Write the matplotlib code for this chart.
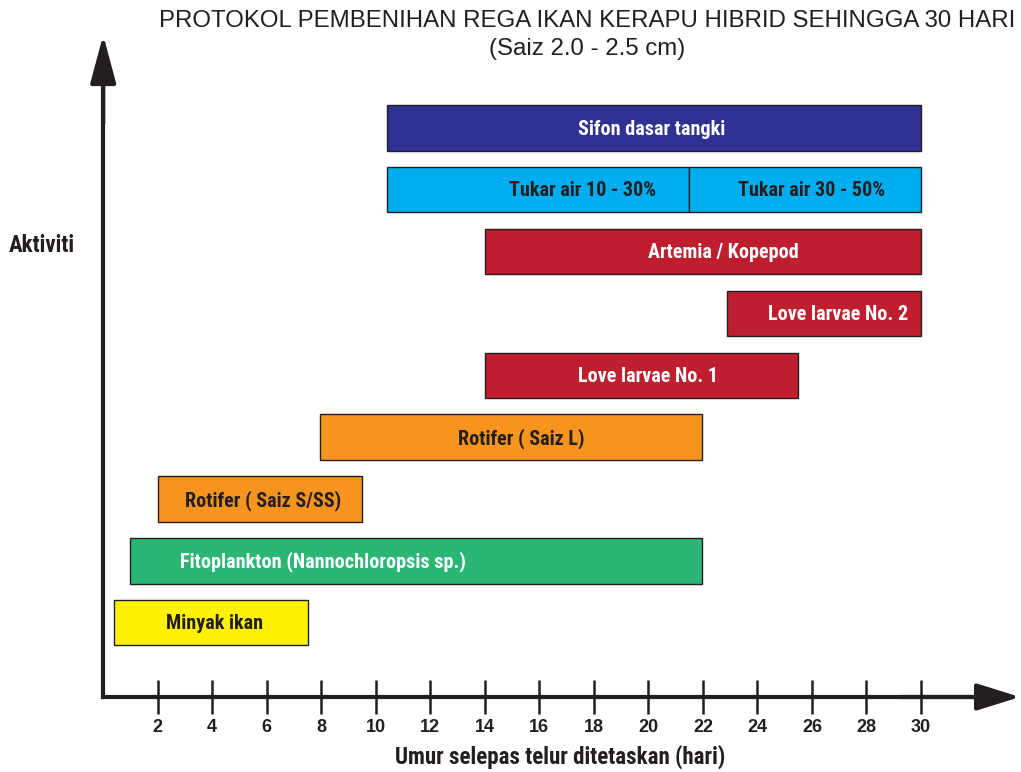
import matplotlib
matplotlib.use("Agg")
import matplotlib.pyplot as plt

# ---------------- data ----------------
activities = ["Minyak ikan", "Fitoplankton (Nannochloropsis sp.)", "Rotifer ( Saiz S/SS)",
              "Rotifer ( Saiz L)", "Love larvae No. 1", "Love larvae No. 2",
              "Artemia / Kopepod", "Tukar air 10 - 30%", "Tukar air 30 - 50%",
              "Sifon dasar tangki"]
rows = [0, 1, 2, 3, 4, 5, 6, 7, 7, 8]
start_day = [0.4, 1.0, 2.0, 7.95, 14.0, 22.9, 14.0, 10.4, 21.5, 10.4]
end_day = [7.5, 21.95, 9.5, 21.95, 25.5, 30.0, 30.0, 21.5, 30.0, 30.0]
label_day = [4.08, 8.07, 5.88, 15.33, 19.98, 26.97, 22.76, 17.6, 26.0, 20.1]
bar_colors = ["#fff200", "#2bb673", "#f7941d", "#f7941d", "#be1e2d", "#be1e2d",
              "#be1e2d", "#00aeef", "#00aeef", "#2e3192"]
text_colors = ["#231f20", "white", "#231f20", "#231f20", "white", "white",
               "white", "#231f20", "#231f20", "white"]
x_ticks = [2, 4, 6, 8, 10, 12, 14, 16, 18, 20, 22, 24, 26, 28, 30]

title1 = "PROTOKOL PEMBENIHAN REGA IKAN KERAPU HIBRID SEHINGGA 30 HARI"
title2 = "(Saiz 2.0 - 2.5 cm)"
xlabel = "Umur selepas telur ditetaskan (hari)"
ylabel = "Aktiviti"

# ---------------- style ----------------
DARK = "#231f20"
NARROW = ["Liberation Sans Narrow", "Roboto Condensed", "Liberation Sans", "DejaVu Sans"]
REG = ["Liberation Sans", "DejaVu Sans"]

W, H = 1021, 772
fig = plt.figure(figsize=(W / 100, H / 100), dpi=100)

x0_px, y0_px, top_px = 103.2, 697.0, 60.0
px_per_day = 27.26
row_px = 61.86
xmax = 32.5
right_px = x0_px + xmax * px_per_day
ax = fig.add_axes([x0_px / W, (H - y0_px) / H, (right_px - x0_px) / W, (y0_px - top_px) / H])
ax.set_xlim(0, xmax)
ax.set_ylim(-(y0_px - 622.7) / row_px, (622.7 - top_px) / row_px)

for s in ["top", "right"]:
    ax.spines[s].set_visible(False)
for s in ["left", "bottom"]:
    ax.spines[s].set_linewidth(3.0)
    ax.spines[s].set_color(DARK)
    ax.spines[s].set_capstyle("projecting")

ax.set_yticks([])
ax.set_xticks(x_ticks)
ax.set_xticklabels([str(t) for t in x_ticks], fontfamily=REG, fontweight="bold",
                   fontsize=13, color=DARK)
ax.tick_params(axis="x", direction="inout", length=25, width=1.8, color=DARK, pad=3.5)

# bars
bar_h = 0.735
for name, r, s, e, lx, bc, tc in zip(activities, rows, start_day, end_day, label_day,
                                     bar_colors, text_colors):
    ax.barh(r, e - s, left=s, height=bar_h, color=bc, edgecolor=DARK, linewidth=1.0, zorder=3)
    ax.text(lx, r - 0.02, name, ha="center", va="center", color=tc, fontsize=14.5,
            fontweight="bold", fontfamily=NARROW, zorder=4)

# axis arrows
ax.annotate("", xy=((1020 - x0_px) / (right_px - x0_px), 0), xytext=(0.9, 0),
            xycoords="axes fraction", textcoords="axes fraction",
            arrowprops=dict(arrowstyle="-|>,head_length=26.6,head_width=8.3",
                            mutation_scale=1, lw=3.0, color=DARK,
                            shrinkA=0, shrinkB=0), annotation_clip=False)
ax.annotate("", xy=(0, (y0_px - 35) / (y0_px - top_px)), xytext=(0, 0.9),
            xycoords="axes fraction", textcoords="axes fraction",
            arrowprops=dict(arrowstyle="-|>,head_length=29.5,head_width=7.9",
                            mutation_scale=1, lw=3.0, color=DARK,
                            shrinkA=0, shrinkB=0), annotation_clip=False)

# texts
fig.text(587 / W, 1 - 21 / H, title1, ha="center", va="center", fontsize=17.3,
         fontfamily=REG, color=DARK)
fig.text(587 / W, 1 - 49 / H, title2, ha="center", va="center", fontsize=17.3,
         fontfamily=REG, color=DARK)
fig.text(560 / W, 1 - 757 / H, xlabel, ha="center", va="center", fontsize=16.5,
         fontweight="bold", fontfamily=NARROW, color=DARK)
fig.text(9 / W, 1 - 245 / H, ylabel, ha="left", va="center", fontsize=16.5,
         fontweight="bold", fontfamily=NARROW, color=DARK)

fig.savefig("out.png", dpi=100, facecolor="white")
